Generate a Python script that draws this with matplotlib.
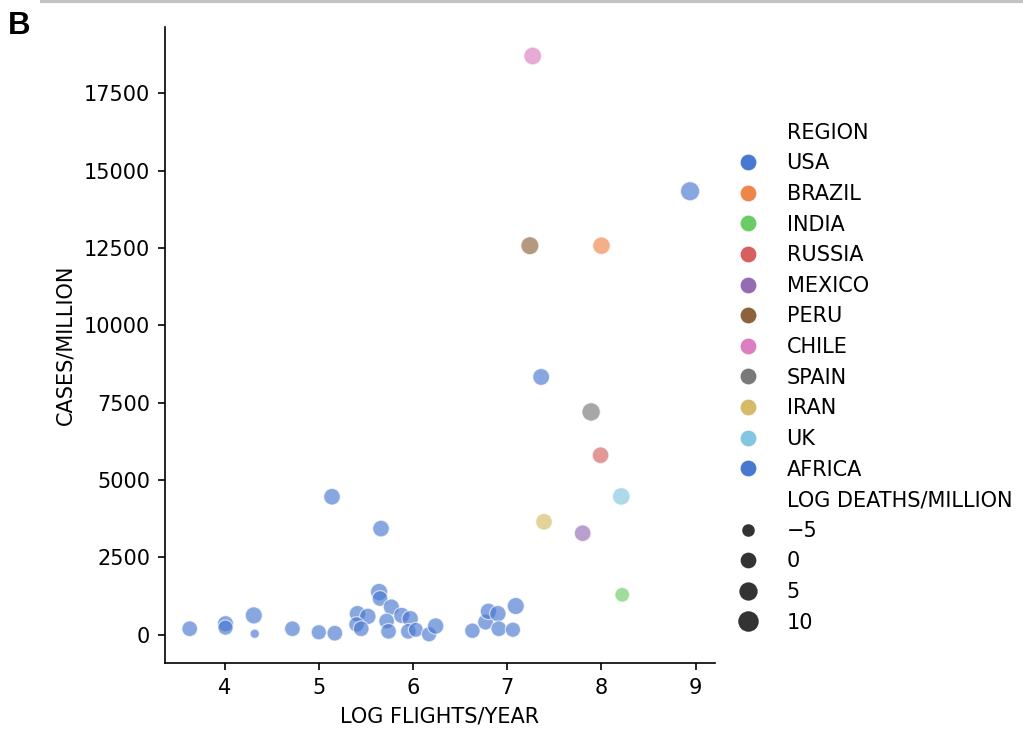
import numpy as np
import pandas as pd
import matplotlib
matplotlib.use("Agg")
import matplotlib.pyplot as plt
from matplotlib.lines import Line2D
import seaborn as sns

# regions in legend order (AFRICA wraps back to the first muted colour)
region_order = ["USA", "BRAZIL", "INDIA", "RUSSIA", "MEXICO", "PERU",
                "CHILE", "SPAIN", "IRAN", "UK", "AFRICA"]

# named countries
big_region = ["USA", "BRAZIL", "INDIA", "RUSSIA", "MEXICO", "PERU",
              "CHILE", "SPAIN", "IRAN", "UK"]
big_flights = [8.94, 8.00, 8.22, 7.99, 7.80, 7.24, 7.27, 7.89, 7.39, 8.21]
big_cases = [14330, 12570, 1290, 5800, 3280, 12570, 18700, 7200, 3650, 4470]
big_deaths = [12.0, 8.0, 2.0, 6.0, 6.0, 9.0, 8.5, 10.0, 6.0, 8.0]

# african countries
afr_flights = [3.63, 4.01, 4.01, 4.31, 4.32, 4.72, 5.00, 5.17, 5.41, 5.52,
               5.40, 5.45, 5.64, 5.65, 5.77, 5.72, 5.74, 5.88, 5.97, 5.95,
               6.03, 6.17, 6.24, 6.63, 6.77, 6.80, 6.90, 6.91, 7.06, 7.09,
               5.14, 5.66, 7.36]
afr_cases = [194, 356, 230, 625, 32, 194, 80, 50, 680, 593,
             333, 194, 1380, 1170, 895, 443, 110, 625, 518, 110,
             160, 15, 281, 130, 410, 755, 680, 194, 162, 928,
             4460, 3430, 8330]
afr_deaths = [4.0, 5.0, 3.0, 7.0, -6.5, 4.0, 3.0, 4.0, 5.5, 5.5,
              3.5, 4.0, 7.5, 4.0, 5.0, 4.0, 4.0, 5.0, 5.5, 4.0,
              2.5, 3.0, 5.5, 3.5, 4.5, 5.5, 5.5, 4.0, 3.0, 7.0,
              6.0, 6.0, 6.5]

size_ticks = [-5, 0, 5, 10]
size_range = (20, 85)

df = pd.DataFrame({
    "REGION": big_region + ["AFRICA"] * len(afr_flights),
    "LOG FLIGHTS/YEAR": big_flights + afr_flights,
    "CASES/MILLION": big_cases + afr_cases,
    "LOG DEATHS/MILLION": big_deaths + afr_deaths,
})

fig = plt.figure(figsize=(6.82, 4.88), dpi=150)
ax = fig.add_axes([0.161, 0.094, 0.538, 0.869])

palette = sns.color_palette("muted", len(region_order))
sns.scatterplot(data=df, x="LOG FLIGHTS/YEAR", y="CASES/MILLION",
                hue="REGION", hue_order=region_order, palette=palette,
                size="LOG DEATHS/MILLION", sizes=size_range,
                alpha=0.65, legend=False, ax=ax)

ax.spines["top"].set_visible(False)
ax.spines["right"].set_visible(False)
ax.set_xticks([4, 5, 6, 7, 8, 9])
ax.set_yticks(np.arange(0, 17501, 2500))

# legend built by hand: subtitles as blank entries like seaborn does
dmin = df["LOG DEATHS/MILLION"].min()
dmax = df["LOG DEATHS/MILLION"].max()
blank = Line2D([], [], ls="", marker="")
handles = [blank]
labels = ["REGION"]
for name, col in zip(region_order, palette):
    handles.append(Line2D([], [], ls="", marker="o", color=col,
                          markersize=6.6))
    labels.append(name)
handles.append(blank)
labels.append("LOG DEATHS/MILLION")
for v in size_ticks:
    s = size_range[0] + (v - dmin) / (dmax - dmin) * (size_range[1] - size_range[0])
    handles.append(Line2D([], [], ls="", marker="o", color="#333333",
                          markersize=np.sqrt(s)))
    labels.append("\u2212" + str(abs(v)) if v < 0 else str(v))

fig.legend(handles, labels, loc="upper left", bbox_to_anchor=(0.6925, 0.858),
           frameon=False, labelspacing=0.51, handletextpad=0.85)

# panel letter and the rule at the top
fig.text(0.008, 0.985, "B", fontsize=15, fontweight="bold",
         family="Liberation Sans", va="top", ha="left")
fig.add_artist(Line2D([0.04, 1.0], [0.998, 0.998], color="#c4c4c4",
                      lw=1.5, transform=fig.transFigure))

fig.savefig("out.png", dpi=150)
